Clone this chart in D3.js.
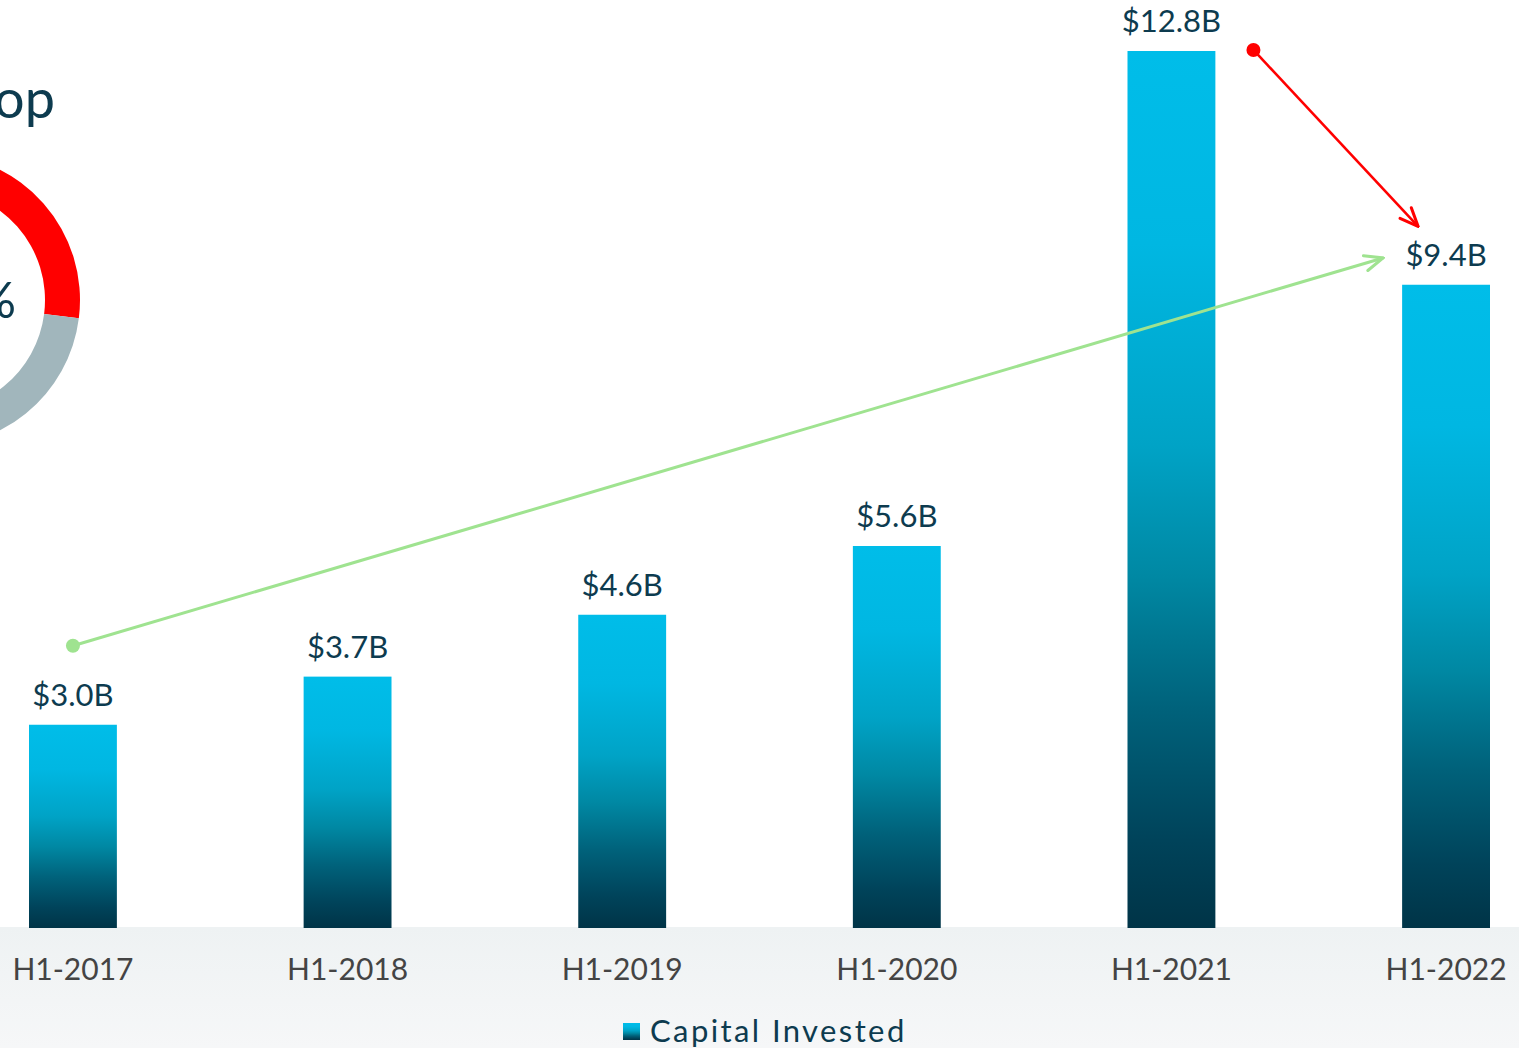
<!DOCTYPE html>
<html>
<head>
<meta charset="utf-8">
<script src="https://cdn.jsdelivr.net/npm/d3@7"></script>
<style>
  html, body { margin: 0; padding: 0; background: #ffffff; }
  svg { display: block; font-family: Lato, "Open Sans", sans-serif; }
</style>
</head>
<body>
<svg id="chart" width="1519" height="1048"></svg>
<script>
// Capital invested per first half-year, in billions of dollars
const periods = ["H1-2017", "H1-2018", "H1-2019", "H1-2020", "H1-2021", "H1-2022"];
const capitalInvested = [3.0, 3.7, 4.6, 5.6, 12.8, 9.4];
const valueLabels = ["$3.0B", "$3.7B", "$4.6B", "$5.6B", "$12.8B", "$9.4B"];
const seriesName = "Capital Invested";
// Year-over-year drop shown in the ring
const dropShare = 0.27;
const dropLabel = "27%";
const headline = "Drop";

const W = 1519, H = 1048;
const baseline = 928;

const svg = d3.select("#chart");
const defs = svg.append("defs");

// vertical cyan-to-navy fill used by bars and the legend swatch
const grad = defs.append("linearGradient")
  .attr("id", "barFill").attr("x1", 0).attr("y1", 0).attr("x2", 0).attr("y2", 1);
[[0, "#00bde9"], [0.22, "#00b7e2"], [0.45, "#00a3c6"], [0.6, "#0088a3"],
 [0.75, "#00627b"], [0.9, "#00435a"], [1, "#003447"]].forEach(([o, c]) =>
  grad.append("stop").attr("offset", o).attr("stop-color", c));

const bandGrad = defs.append("linearGradient")
  .attr("id", "bandFill").attr("x1", 0).attr("y1", 0).attr("x2", 0).attr("y2", 1);
bandGrad.append("stop").attr("offset", 0).attr("stop-color", "#eef2f3");
bandGrad.append("stop").attr("offset", 1).attr("stop-color", "#f6f7f8");

const ringShade = defs.append("radialGradient")
  .attr("id", "ringShade").attr("gradientUnits", "userSpaceOnUse")
  .attr("cx", -66).attr("cy", 300).attr("r", 146);
ringShade.append("stop").attr("offset", 0.75).attr("stop-color", "#b00000");
ringShade.append("stop").attr("offset", 0.82).attr("stop-color", "#ff0000");
ringShade.append("stop").attr("offset", 1).attr("stop-color", "#ff0000");

// open chevron heads for the trend arrows
function arrowHead(id, color) {
  defs.append("marker")
    .attr("id", id).attr("viewBox", "0 0 20 20")
    .attr("refX", 18.5).attr("refY", 10)
    .attr("markerWidth", 22).attr("markerHeight", 22)
    .attr("markerUnits", "userSpaceOnUse")
    .attr("orient", "auto")
    .append("path")
    .attr("d", "M2,3 L18.5,10 L2,17")
    .attr("fill", "none").attr("stroke", color)
    .attr("stroke-width", 2.8).attr("stroke-linecap", "round")
    .attr("stroke-linejoin", "miter");
}
arrowHead("greenHead", "#9fe390");
arrowHead("redHead", "#ff0000");

// axis band
svg.append("rect").attr("x", 0).attr("y", baseline - 1)
  .attr("width", W).attr("height", H - baseline + 1)
  .attr("fill", "url(#bandFill)");

// scales
const x = d3.scaleBand().domain(periods).range([29, 1490])
  .paddingInner(0.68).paddingOuter(0);
const y = d3.scaleLinear().domain([0, 12.8]).range([931, 51]);

// headline and drop ring (partly outside the view on the left)
svg.append("text")
  .attr("x", 55).attr("y", 118)
  .attr("text-anchor", "end")
  .attr("font-size", 54)
  .attr("fill", "#0d3b4f")
  .text(headline);

const ring = svg.append("g").attr("transform", "translate(-66,300)");
const arc = d3.arc().innerRadius(111).outerRadius(146);
const pie = d3.pie().sort(null).value(d => d)([dropShare, 1 - dropShare]);
ring.selectAll("path").data(pie).join("path")
  .attr("d", arc)
  .attr("fill", (d, i) => i === 0 ? "url(#ringShade)" : "#a1b6bc");
ring.append("text")
  .attr("x", 82).attr("y", 18)
  .attr("text-anchor", "end")
  .attr("font-size", 50)
  .attr("fill", "#0d3b4f")
  .text(dropLabel);

// bars
svg.append("g").selectAll("rect")
  .data(periods)
  .join("rect")
  .attr("x", d => x(d))
  .attr("width", x.bandwidth())
  .attr("y", (d, i) => y(capitalInvested[i]))
  .attr("height", (d, i) => baseline - y(capitalInvested[i]))
  .attr("fill", "url(#barFill)");

// value labels
svg.append("g").selectAll("text")
  .data(periods)
  .join("text")
  .attr("x", d => x(d) + x.bandwidth() / 2)
  .attr("y", (d, i) => y(capitalInvested[i]) - 19)
  .attr("text-anchor", "middle")
  .attr("font-size", 31)
  .attr("fill", "#0d3b4f")
  .text((d, i) => valueLabels[i]);

// category axis
const axis = svg.append("g")
  .attr("transform", `translate(0,${baseline})`)
  .call(d3.axisBottom(x).tickSize(0).tickPadding(0));
axis.select(".domain").remove();
axis.selectAll("text")
  .attr("y", 52).attr("dy", 0)
  .attr("font-size", 30)
  .attr("font-family", "Lato, 'Open Sans', sans-serif")
  .attr("fill", "#444444");

// trend arrows
const cx = i => x(periods[i]) + x.bandwidth() / 2;
const growth = { x1: cx(0), y1: y(4.15), x2: cx(5) - 63, y2: y(9.79) };
svg.append("line")
  .attr("x1", growth.x1).attr("y1", growth.y1)
  .attr("x2", growth.x2).attr("y2", growth.y2)
  .attr("stroke", "#9fe390").attr("stroke-width", 3)
  .attr("marker-end", "url(#greenHead)");
svg.append("circle").attr("cx", growth.x1).attr("cy", growth.y1)
  .attr("r", 7).attr("fill", "#9fe390");

const decline = { x1: cx(4) + 82, y1: y(12.815), x2: cx(5) - 28, y2: y(10.25) };
svg.append("line")
  .attr("x1", decline.x1).attr("y1", decline.y1)
  .attr("x2", decline.x2).attr("y2", decline.y2)
  .attr("stroke", "#ff0000").attr("stroke-width", 2.6)
  .attr("marker-end", "url(#redHead)");
svg.append("circle").attr("cx", decline.x1).attr("cy", decline.y1)
  .attr("r", 7).attr("fill", "#ff0000");

// legend
const legend = svg.append("g").attr("transform", "translate(623,1023)");
legend.append("rect").attr("width", 17).attr("height", 17).attr("fill", "url(#barFill)");
legend.append("text")
  .attr("x", 27).attr("y", 19)
  .attr("font-size", 31)
  .attr("letter-spacing", 2.4)
  .attr("fill", "#0d3b4f")
  .text(seriesName);
</script>
</body>
</html>
